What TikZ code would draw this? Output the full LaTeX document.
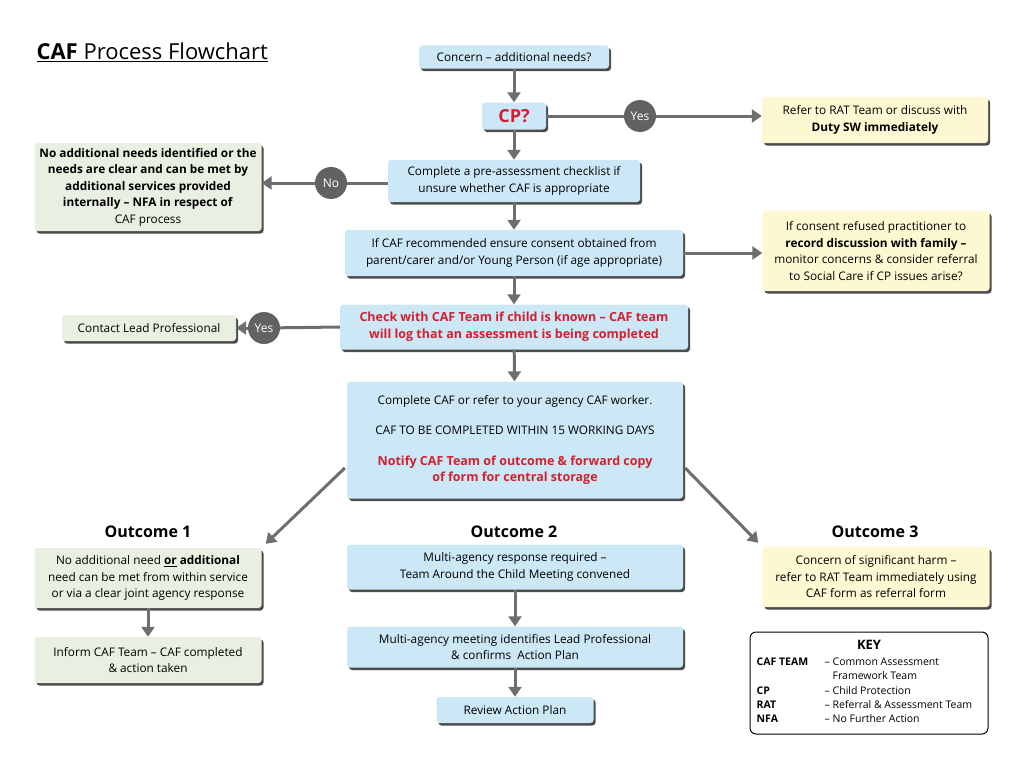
\documentclass[tikz,border=0pt]{standalone}
\usepackage{fontspec}
\setmainfont{Open Sans}
\usetikzlibrary{arrows.meta,shadows,calc}
\definecolor{bluef}{HTML}{CCE7F6}
\definecolor{greenf}{HTML}{E9F0E2}
\definecolor{yellowf}{HTML}{FDF8D2}
\definecolor{arrg}{HTML}{6E6E70}
\definecolor{circg}{HTML}{626264}
\definecolor{redt}{HTML}{D2202E}
\begin{document}
\begin{tikzpicture}[x=1pt,y=-1pt,
  box/.style={rounded corners=3pt, align=center, inner sep=2pt,
    font=\fontsize{11.8}{16.5}\selectfont,
    drop shadow={shadow xshift=2pt,shadow yshift=-2.5pt,fill=black!70,opacity=1}},
  bluebox/.style={box, fill=bluef},
  greenbox/.style={box, fill=greenf},
  yellowbox/.style={box, fill=yellowf},
  arr/.style={draw=arrg, line width=3pt, -{Triangle[length=10pt,width=13pt]}},
  plain/.style={draw=arrg, line width=3pt},
  circ/.style={circle, fill=circg, text=white, minimum size=32pt, inner sep=0pt, font=\fontsize{12}{14}\selectfont},
  outl/.style={font=\fontsize{16}{18}\selectfont\bfseries},
  redb/.style={text=redt, font=\fontsize{12.5}{17}\selectfont\bfseries}
]
\useasboundingbox (0,0) rectangle (1024,768);

\node[anchor=west, font=\fontsize{22}{24}\selectfont] (title) at (33,52) {\underline{\textbf{CAF} Process Flowchart}};

\node[bluebox, minimum width=190pt, minimum height=23pt] (concern) at (514,57) {Concern – additional needs?};
\node[bluebox, minimum width=64pt, minimum height=27pt, text=redt, font=\fontsize{18}{20}\selectfont\bfseries] (cp) at (514,116) {CP?};
\node[yellowbox, minimum width=226pt, minimum height=46pt] (refer) at (875,120) {Refer to RAT Team or discuss with\\\textbf{Duty SW immediately}};
\node[circ] (yes1) at (640,116) {Yes};

\node[bluebox, minimum width=252pt, minimum height=42pt] (pre) at (514,181) {Complete a pre-assessment checklist if\\unsure whether CAF is appropriate};
\node[greenbox, minimum width=227pt, minimum height=88pt] (noneeds) at (148,187) {\textbf{No additional needs identified or the}\\\textbf{needs are clear and can be met by}\\\textbf{additional services provided}\\\textbf{internally – NFA in respect of}\\CAF process};
\node[circ] (no) at (331,183) {No};

\node[bluebox, minimum width=338pt, minimum height=46pt] (consent) at (514,253) {If CAF recommended ensure consent obtained from\\parent/carer and/or Young Person (if age appropriate)};
\node[yellowbox, minimum width=227pt, minimum height=80pt] (refused) at (876,251) {If consent refused practitioner to\\\textbf{record discussion with family –}\\monitor concerns \& consider referral\\to Social Care if CP issues arise?};

\node[bluebox, minimum width=348pt, minimum height=45pt, redb] (check) at (514,327) {Check with CAF Team if child is known – CAF team\\will log that an assessment is being completed};
\node[greenbox, minimum width=174pt, minimum height=26pt] (contact) at (149,328) {Contact Lead Professional};
\node[circ] (yes2) at (264,328) {Yes};

\node[bluebox, minimum width=336pt, minimum height=117pt] (big) at (515,440) {Complete CAF or refer to your agency CAF worker.\\[14pt]
CAF TO BE COMPLETED WITHIN 15 WORKING DAYS\\[14pt]
{\color{redt}\fontsize{12.5}{17}\selectfont\bfseries Notify CAF Team of outcome \& forward copy}\\
{\color{redt}\fontsize{12.5}{17}\selectfont\bfseries of form for central storage}};

\node[outl] (out1) at (148,532) {Outcome 1};
\node[outl] (out2) at (514,532) {Outcome 2};
\node[outl] (out3) at (875,532) {Outcome 3};

\node[greenbox, minimum width=227pt, minimum height=60pt] (o1) at (148,578) {No additional need \underline{\textbf{or}} \textbf{additional}\\need can be met from within service\\or via a clear joint agency response};
\node[greenbox, minimum width=227pt, minimum height=46pt] (inform) at (148,660) {Inform CAF Team – CAF completed\\\& action taken};

\node[bluebox, minimum width=336pt, minimum height=45pt] (o2a) at (515,567) {Multi-agency response required –\\Team Around the Child Meeting convened};
\node[bluebox, minimum width=336pt, minimum height=41pt] (o2b) at (515,647) {Multi-agency meeting identifies Lead Professional\\\& confirms~ Action Plan};
\node[bluebox, minimum width=157pt, minimum height=26pt] (review) at (515,710) {Review Action Plan};

\node[yellowbox, minimum width=227pt, minimum height=60pt] (o3) at (876,577) {Concern of significant harm –\\refer to RAT Team immediately using\\CAF form as referral form};

\node[draw=black, line width=1pt, rounded corners=6pt, minimum width=238pt, minimum height=102pt, inner sep=0pt] (key) at (869,683) {};
\node[anchor=north, font=\fontsize{13}{15}\selectfont\bfseries, inner sep=0pt] (keyhead) at ($(key.north)+(0,9)$) {KEY};
\node[anchor=north west, font=\fontsize{10.5}{14.2}\selectfont, inner sep=0pt] (keytext) at ($(key.north west)+(7,24)$) {%
\begin{tabular}{@{}p{68pt}@{}l@{}}
\textbf{CAF TEAM} & – Common Assessment\\
 & \phantom{– }Framework Team\\
\textbf{CP} & – Child Protection\\
\textbf{RAT} & – Referral \& Assessment Team\\
\textbf{NFA} & – No Further Action
\end{tabular}};

% connectors
\draw[arr] (concern) -- (cp);
\draw[plain] (cp) -- (yes1);
\draw[arr] (yes1) -- (refer.west |- yes1);
\draw[arr] (cp) -- (pre);
\draw[plain] (pre.west |- no) -- (no);
\draw[arr] (no) -- (noneeds.east |- no);
\draw[arr] (pre) -- (consent);
\draw[arr] (consent.east) -- (refused.west |- consent.east);
\draw[arr] (consent) -- (check);
\draw[plain] (check.west) -- (yes2);
\draw[arr] (yes2) -- (contact.east |- yes2);
\draw[arr] (check) -- (big);
\draw[arr] ($(big.west)+(-2,28)$) -- ($(o1.north east)+(4,-4)$);
\draw[arr] ($(big.east)+(2,28)$) -- ($(o3.north west)+(-4,-4)$);
\draw[arr] (o1) -- (inform);
\draw[arr] (o2a) -- (o2b);
\draw[arr] (o2b) -- (review);
\end{tikzpicture}
\end{document}
